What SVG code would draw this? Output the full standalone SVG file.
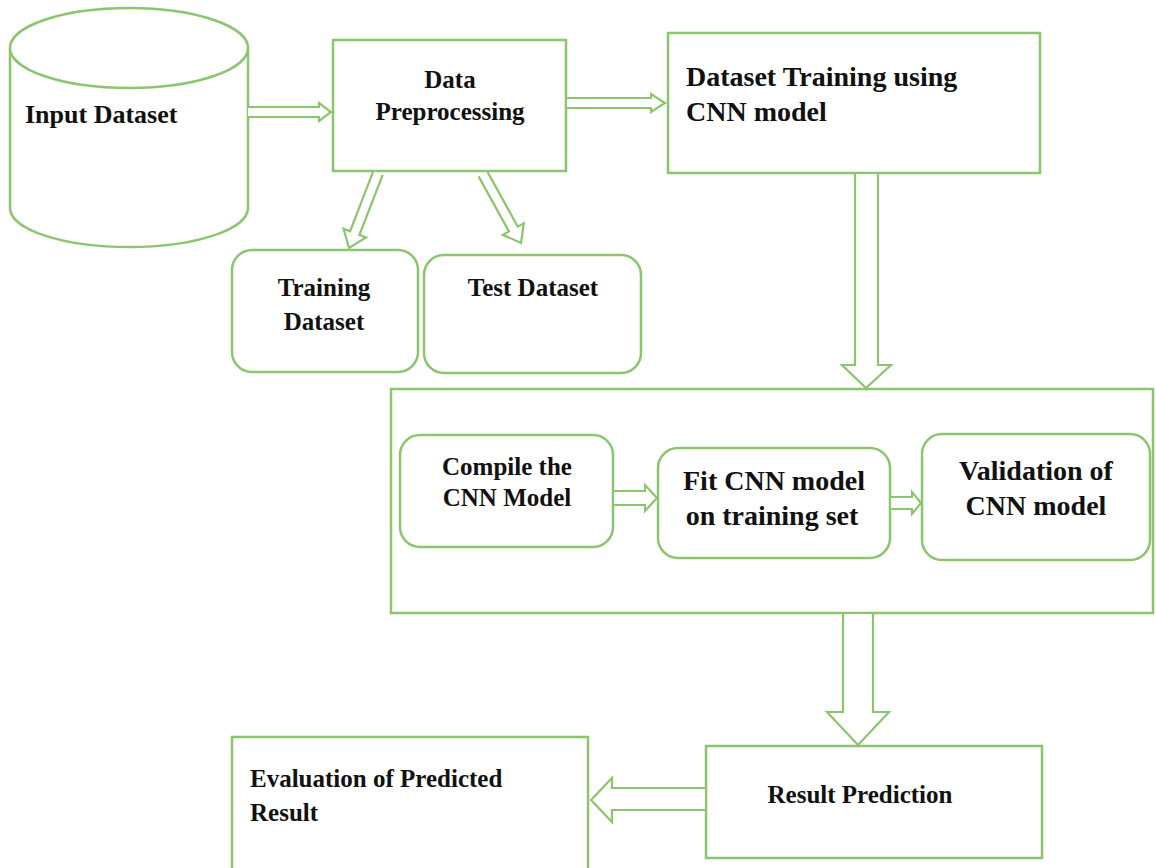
<svg xmlns="http://www.w3.org/2000/svg" width="1156" height="868" viewBox="0 0 1156 868">
<style>
.s{fill:#fff;stroke:#8cc56e;stroke-width:2.5}
.a{fill:#fff;stroke:#8cc56e;stroke-width:2.2;stroke-linejoin:miter}
.t{font-family:"Liberation Serif","Times New Roman",serif;font-weight:bold;font-size:25px;fill:#111}
.l{font-size:28px}
.m{text-anchor:middle}
</style>
<rect width="1156" height="868" fill="#fff"/>
<g id="input-dataset">
<path class="s" d="M10,48 L10,208 A119,39 0 0 0 248,208 L248,48"/>
<ellipse class="s" cx="129" cy="48" rx="119" ry="40"/>
<text class="t" x="25" y="123" style="font-size:26px">Input Dataset</text>
</g>
<g id="data-preprocessing">
<rect class="s" x="333" y="40" width="233" height="131"/>
<text class="t m" x="450" y="88">Data</text>
<text class="t m" x="450" y="120">Preprocessing</text>
</g>
<g id="dataset-training">
<rect class="s" x="668" y="33" width="372" height="140"/>
<text class="t l" x="686" y="86">Dataset Training using</text>
<text class="t l" x="686" y="121">CNN model</text>
</g>
<g id="training-dataset">
<rect class="s" x="232" y="250" width="186" height="122" rx="20"/>
<text class="t m" x="324" y="296">Training</text>
<text class="t m" x="324" y="330">Dataset</text>
</g>
<g id="test-dataset">
<rect class="s" x="424" y="255" width="217" height="118" rx="20"/>
<text class="t m" x="533" y="296">Test Dataset</text>
</g>
<g id="cnn-process">
<rect class="s" x="391" y="389" width="762" height="224"/>
</g>
<g id="compile">
<rect class="s" x="400" y="435" width="213" height="112" rx="20"/>
<text class="t m" x="507" y="475">Compile the</text>
<text class="t m" x="507" y="506">CNN Model</text>
</g>
<g id="fit">
<rect class="s" x="658" y="448" width="232" height="110" rx="20"/>
<text class="t l m" x="774" y="490">Fit CNN model</text>
<text class="t l m" x="772" y="525">on training set</text>
</g>
<g id="validation">
<rect class="s" x="922" y="434" width="228" height="126" rx="20"/>
<text class="t l m" x="1036" y="480">Validation of</text>
<text class="t l m" x="1036" y="515">CNN model</text>
</g>
<g id="result-prediction">
<rect class="s" x="706" y="746" width="336" height="112"/>
<text class="t m" x="860" y="803">Result Prediction</text>
</g>
<g id="evaluation">
<rect class="s" x="232" y="737" width="356" height="145"/>
<text class="t" x="250" y="787">Evaluation of Predicted</text>
<text class="t" x="250" y="821">Result</text>
</g>
<g id="connectors">
<path class="a" d="M248,107 L319,107 L319,103 L331,112 L319,121 L319,117 L248,117"/>
<path class="a" d="M567,98 L651,98 L651,94 L665,103 L651,112 L651,108 L567,108"/>
<path class="a" d="M382.7,174.8 L359.4,234.9 L366,237.4 L349,248 L343.6,228.8 L350.1,231.3 L373.3,171.2"/>
<path class="a" d="M478.6,176.4 L508.9,231.4 L502.8,234.8 L521,243 L523.8,223.2 L517.7,226.6 L487.4,171.6"/>
<path class="a" d="M855,174 L855,365 L842,365 L866,388 L891,365 L878,365 L878,174"/>
<path class="a" d="M614,491 L645,491 L645,485 L657,498 L645,511 L645,505 L614,505"/>
<path class="a" d="M891,497 L912,497 L912,492 L921,503 L912,514 L912,509 L891,509"/>
<path class="a" d="M843,614 L843,712 L827,712 L858,745 L889,712 L873,712 L873,614"/>
<path class="a" d="M705,788 L612,788 L612,778 L591,800 L612,822 L612,810 L705,810"/>
</g>
</svg>
